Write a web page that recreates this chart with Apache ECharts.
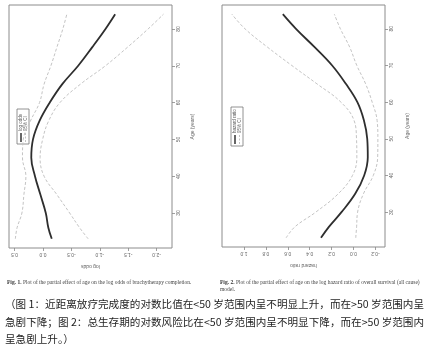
<!DOCTYPE html>
<html>
<head>
<meta charset="utf-8">
<style>
  html, body { margin: 0; padding: 0; background: #fff; }
  #chart { width: 427px; height: 346px; }
</style>
<script src="https://cdn.jsdelivr.net/npm/echarts@6/dist/echarts.min.js"></script>
</head>
<body>
<div id="chart"></div>
<script>
// Ages at which the fitted curves are sampled
const ages = [23, 26, 30, 35, 40, 45, 50, 55, 60, 65, 70, 75, 80, 84];

// Fig. 1: partial effect of age on log odds of brachytherapy completion
const oddsFit   = [-0.155, -0.095, -0.05, 0.045, 0.14, 0.205, 0.175, 0.06, -0.12, -0.34, -0.62, -0.865, -1.10, -1.27];
const oddsUpper = [0.485, 0.455, 0.37, 0.335, 0.30, 0.36, 0.345, 0.22, 0.06, -0.02, -0.14, -0.245, -0.35, -0.42];
const oddsLower = [-0.795, -0.645, -0.47, -0.245, -0.02, 0.05, 0.005, -0.10, -0.30, -0.66, -1.10, -1.485, -1.85, -2.12];

// Fig. 2: partial effect of age on log hazard ratio of overall survival
const hazFit   = [0.297, 0.225, 0.11, -0.015, -0.097, -0.13, -0.125, -0.095, -0.035, 0.07, 0.195, 0.355, 0.525, 0.645];
const hazUpper = [0.615, 0.535, 0.345, 0.14, 0.01, -0.03, -0.027, -0.005, 0.115, 0.334, 0.563, 0.785, 0.99, 1.11];
const hazLower = [-0.02, -0.028, -0.037, -0.09, -0.18, -0.22, -0.222, -0.215, -0.17, -0.11, -0.03, 0.035, 0.12, 0.175];

// Tick labels
const ageTicks = [30, 40, 50, 60, 70, 80];
const oddsTicks = [-2, -1.5, -1, -0.5, 0, 0.5];
const hazTicks = [-0.2, 0, 0.2, 0.4, 0.6, 0.8, 1.0];

// Text
const ageTitle = 'Age (years)';
const oddsTitle = 'log odds';
const hazTitle = 'hazard ratio';
const ciLabel = '95% CI';
const caption1 = '{b|Fig. 1.} Plot of the partial effect of age on the log odds of brachytherapy completion.';
const caption2a = '{b|Fig. 2.} Plot of the partial effect of age on the log hazard ratio of overall survival (all cause)';
const caption2b = 'model.';
const noteLines = [
  '（图 1：近距离放疗完成度的对数比值在<50 岁范围内呈不明显上升，而在>50 岁范围内呈',
  '急剧下降；图 2：总生存期的对数风险比在<50 岁范围内呈不明显下降，而在>50 岁范围内',
  '呈急剧上升。）'
];

const pairs = (vals) => vals.map((v, i) => [v, ages[i]]);

const fitStyle = { color: '#2e2e2e', width: 1.8 };
const ciStyle = { color: '#c4c4c4', width: 1, type: [3, 2] };

function valueAxis(idx, min, max, ticks, title, digits) {
  return {
    type: 'value', gridIndex: idx, inverse: true, position: 'bottom',
    min: min, max: max,
    splitLine: { show: false },
    axisLine: { show: false, onZero: false },
    axisTick: { show: true, inside: false, length: 3, customValues: ticks, lineStyle: { color: '#888', width: 0.8 } },
    axisLabel: { show: true, customValues: ticks, rotate: 180, margin: 4, fontSize: 5, color: '#666',
      fontFamily: 'Liberation Sans', formatter: (v) => v.toFixed(digits) },
    name: title, nameLocation: 'middle', nameRotate: 180, nameGap: 16,
    nameTextStyle: { fontSize: 5, color: '#666', fontFamily: 'Liberation Sans' }
  };
}

function ageAxis(idx, gap) {
  return {
    type: 'value', gridIndex: idx, position: 'right',
    min: 20.5, max: 86.5,
    splitLine: { show: false },
    axisLine: { show: false, onZero: false },
    axisTick: { show: true, inside: false, length: 3, customValues: ageTicks, lineStyle: { color: '#888', width: 0.8 } },
    axisLabel: { show: true, customValues: ageTicks, rotate: 90, margin: 4, fontSize: 5, color: '#666',
      fontFamily: 'Liberation Sans' },
    name: ageTitle, nameLocation: 'middle', nameRotate: 90, nameGap: gap,
    nameTextStyle: { fontSize: 5, color: '#666', fontFamily: 'Liberation Sans' }
  };
}

function line(idx, vals, style) {
  return {
    type: 'line', xAxisIndex: idx, yAxisIndex: idx, data: pairs(vals),
    smooth: 0.4, showSymbol: false, symbol: 'none', silent: true,
    lineStyle: style, animation: false
  };
}

function legendBox(x, y, len, label) {
  return {
    type: 'group', x: x, y: y, rotation: Math.PI / 2,
    children: [
      { type: 'rect', shape: { x: 0, y: 0, width: len, height: 12 },
        style: { fill: '#fff', stroke: '#777', lineWidth: 0.8 } },
      { type: 'line', shape: { x1: 2, y1: 4, x2: 11, y2: 4 },
        style: { stroke: '#333', lineWidth: 1.5 } },
      { type: 'text', x: 13, y: 4,
        style: { text: label, fontSize: 4.5, fill: '#555', fontFamily: 'Liberation Sans', verticalAlign: 'middle' } },
      { type: 'line', shape: { x1: 2, y1: 8.5, x2: 11, y2: 8.5 },
        style: { stroke: '#c4c4c4', lineWidth: 1, lineDash: [2, 1.5] } },
      { type: 'text', x: 13, y: 8.5,
        style: { text: ciLabel, fontSize: 4.5, fill: '#666', fontFamily: 'Liberation Sans', verticalAlign: 'middle' } }
    ]
  };
}

const capFont = { fontSize: 5.5, fontFamily: 'Liberation Serif', fill: '#444',
  rich: { b: { fontWeight: 'bold', fontSize: 5.5, fontFamily: 'Liberation Serif', fill: '#333' } } };

const chart = echarts.init(document.getElementById('chart'), null, { renderer: 'canvas' });
chart.setOption({
  animation: false,
  backgroundColor: '#fff',
  grid: [
    { left: 9, top: 5, width: 163, height: 243, show: true, borderColor: '#8c8c8c', borderWidth: 1, containLabel: false },
    { left: 222, top: 5, width: 163, height: 242, show: true, borderColor: '#8c8c8c', borderWidth: 1, containLabel: false }
  ],
  xAxis: [
    valueAxis(0, -2.27, 0.597, oddsTicks, oddsTitle, 1),
    valueAxis(1, -0.287, 1.2, hazTicks, hazTitle, 1)
  ],
  yAxis: [ageAxis(0, 18), ageAxis(1, 20)],
  series: [
    line(0, oddsUpper, ciStyle), line(0, oddsLower, ciStyle), line(0, oddsFit, fitStyle),
    line(1, hazUpper, ciStyle), line(1, hazLower, ciStyle), line(1, hazFit, fitStyle)
  ],
  graphic: [
    legendBox(17, 144, 35, oddsTitle),
    legendBox(231, 146, 39, hazTitle),
    { type: 'text', x: 7, y: 283, style: Object.assign({ text: caption1, verticalAlign: 'middle' }, capFont) },
    { type: 'text', x: 220, y: 283, style: Object.assign({ text: caption2a, verticalAlign: 'middle' }, capFont) },
    { type: 'text', x: 220, y: 289.5, style: Object.assign({ text: caption2b, verticalAlign: 'middle' }, capFont) },
    ...noteLines.map((t, i) => ({
      type: 'text', x: 5, y: 304 + i * 17.5,
      style: { text: t, fontSize: 10.6, fontFamily: 'Noto Sans CJK SC', fill: '#1e1e1e', verticalAlign: 'middle' }
    }))
  ]
});
</script>
</body>
</html>
